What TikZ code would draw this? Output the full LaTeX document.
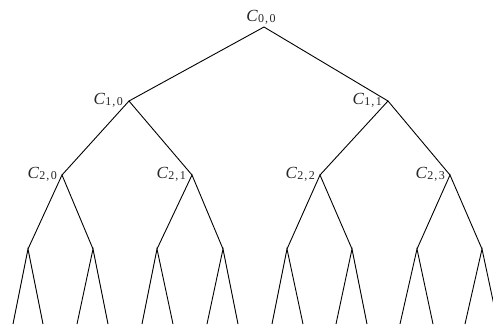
\documentclass[tikz,border=0pt]{standalone}
\usepackage{fontspec}
\setmainfont{Liberation Serif}
\newcommand{\lbl}[2]{\fontsize{17}{17}\selectfont\textit{C}\kern0.3pt\raisebox{-1pt}{\fontsize{12}{12}\selectfont #1\kern1pt,\kern1.5pt#2}}
\tikzset{
  pt/.style={coordinate},
  edge/.style={line width=0.9pt, black},
  lab/.style={inner sep=0pt, text=black!85}
}
\begin{document}
\begin{tikzpicture}[x=1pt,y=-1pt]
\useasboundingbox (0,0) rectangle (493,327);
% level 0,1
\coordinate (r) at (264,27);
\coordinate (a) at (129,101);
\coordinate (b) at (388,101);
% level 2
\coordinate (c0) at (62,175);
\coordinate (c1) at (192,175);
\coordinate (c2) at (320,175);
\coordinate (c3) at (450,175);
% level 3
\coordinate (d0) at (28,249);
\coordinate (d1) at (93,249);
\coordinate (d2) at (157,249);
\coordinate (d3) at (223,249);
\coordinate (d4) at (287,249);
\coordinate (d5) at (352,249);
\coordinate (d6) at (417,249);
\coordinate (d7) at (482,249);
% leaves
\foreach \i/\x in {0/13,1/43,2/77,3/108,4/142,5/173,6/207,7/238,8/272,9/303,10/336,11/367,12/400,13/433,14/465,15/498}
  \coordinate (l\i) at (\x,324);
% edges
\draw[edge] (a) -- (r) -- (b);
\draw[edge] (c0) -- (a) -- (c1);
\draw[edge] (c2) -- (b) -- (c3);
\draw[edge] (d0) -- (c0) -- (d1);
\draw[edge] (d2) -- (c1) -- (d3);
\draw[edge] (d4) -- (c2) -- (d5);
\draw[edge] (d6) -- (c3) -- (d7);
\foreach \d [evaluate=\d as \p using int(2*\d), evaluate=\d as \q using int(2*\d+1)] in {0,...,7}
  \draw[edge] (l\p) -- (d\d) -- (l\q);
% labels
\node[lab, anchor=base] (t00) at (261,21) {\lbl{0}{0}};
\node[lab, anchor=base east] (t10) at (123,104) {\lbl{1}{0}};
\node[lab, anchor=base east] (t11) at (382,104) {\lbl{1}{1}};
\node[lab, anchor=base east] (t20) at (57,178) {\lbl{2}{0}};
\node[lab, anchor=base east] (t21) at (186,178) {\lbl{2}{1}};
\node[lab, anchor=base east] (t22) at (315,178) {\lbl{2}{2}};
\node[lab, anchor=base east] (t23) at (445,178) {\lbl{2}{3}};
\end{tikzpicture}
\end{document}
